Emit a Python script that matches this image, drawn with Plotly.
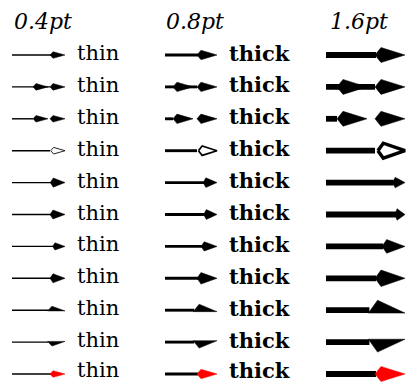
import plotly.graph_objects as go

# line widths of the three columns (pt) and their labels
widths_pt = [0.4, 0.8, 1.6]
col_titles = ["0.4pt", "0.8pt", "1.6pt"]
col_labels = ["thin", "<b>thick</b>", ""]

# one arrow tip variant per row
row_kinds = ["kite", "double", "double_sep", "open", "small", "smaller",
             "short", "wide", "half_up", "half_down", "red"]

# tip size rules: length = a + b*lw, half width = c + d*lw (px, lw in pt)
tip_size = {
    "kite": (10, 12.5, 1.9, 3.5),
    "double": (10, 12.5, 1.9, 3.5),
    "double_sep": (10, 12.5, 1.9, 3.5),
    "open": (10, 12.5, 1.9, 3.5),
    "small": (15.5, -2.0, 4.3, 0.6),
    "smaller": (16.7, -4.2, 4.0, 1.1),
    "short": (9, 8.7, 2.5, 2.7),
    "wide": (10, 12.5, 3.3, 3.1),
    "half_up": (11, 16, 2, 5),
    "half_down": (11, 16, 2, 5),
    "red": (10, 12.5, 1.9, 3.5),
}

PX_PER_PT = 3.6
x_start = [12, 165, 326]
x_tip = [65, 217, 405]
label_x = [76, 228, None]
title_x = [12, 164, 328]
y_first, y_step = 55, 31.9

fig = go.Figure()


def add_poly(xs, ys, fill, outline="black", ow=0.5):
    fig.add_trace(go.Scatter(x=xs, y=ys, mode="lines", fill="toself",
                             fillcolor=fill, line=dict(color=outline, width=ow),
                             hoverinfo="skip", showlegend=False))


def add_line(x0, x1, y, w):
    fig.add_trace(go.Scatter(x=[x0, x1], y=[y, y], mode="lines",
                             line=dict(color="black", width=w),
                             hoverinfo="skip", showlegend=False))


def kite(tip, y, L, hw, fill="black", outline=None, ow=0.5, inset=0.2):
    back = tip - L
    wide = back + inset * L
    add_poly([back, wide, tip, wide, back], [y, y - hw, y, y + hw, y],
             fill, outline or fill, ow)
    return back


for c, lw in enumerate(widths_pt):
    w = lw * PX_PER_PT
    for r, kind in enumerate(row_kinds):
        y = y_first + r * y_step
        a, b, cc, d = tip_size[kind]
        L = a + b * lw
        hw = cc + d * lw
        tip = x_tip[c]
        back = tip - L
        if kind in ("double", "double_sep"):
            gap = 5 * lw
            first_back = tip - 2 * L - gap
            add_line(x_start[c], back if kind == "double" else first_back, y, w)
            kite(tip - L - gap, y, L, hw)
            kite(tip, y, L, hw)
        elif kind == "open":
            add_line(x_start[c], back, y, w)
            kite(tip, y, L - w / 2, hw, fill="white", outline="black", ow=w * 0.6)
        elif kind in ("half_up", "half_down"):
            s = -1 if kind == "half_up" else 1
            add_line(x_start[c], back + 1, y, w)
            wide = back + 0.25 * L
            add_poly([back, wide, tip, back],
                     [y - s * w / 2, y + s * hw, y - s * w / 2, y - s * w / 2],
                     "black")
        else:
            add_line(x_start[c], back + 1, y, w)
            col = "#ff0000" if kind == "red" else "black"
            kite(tip, y, L, hw, fill=col)
        if label_x[c] is not None:
            ty = y - 2 if r < len(row_kinds) - 1 else y - 4
            fig.add_annotation(x=label_x[c], y=ty, text=col_labels[c],
                               xanchor="left", yanchor="middle", showarrow=False,
                               borderpad=0,
                               font=dict(family="DejaVu Serif", size=21, color="black"))
    fig.add_annotation(x=title_x[c], y=21, text="<i>" + col_titles[c] + "</i>",
                       xanchor="left", yanchor="middle", showarrow=False,
                       font=dict(family="DejaVu Serif", size=22, color="black"))

fig.update_layout(
    width=406, height=382,
    margin=dict(l=0, r=0, t=0, b=0),
    paper_bgcolor="white", plot_bgcolor="white",
    xaxis=dict(range=[0, 406], visible=False, fixedrange=True),
    yaxis=dict(range=[382, 0], visible=False, fixedrange=True),
    showlegend=False,
)

fig.write_html("out.html", config={"displayModeBar": False},
               post_script="document.body.style.margin='0';document.body.style.overflow='hidden';")
